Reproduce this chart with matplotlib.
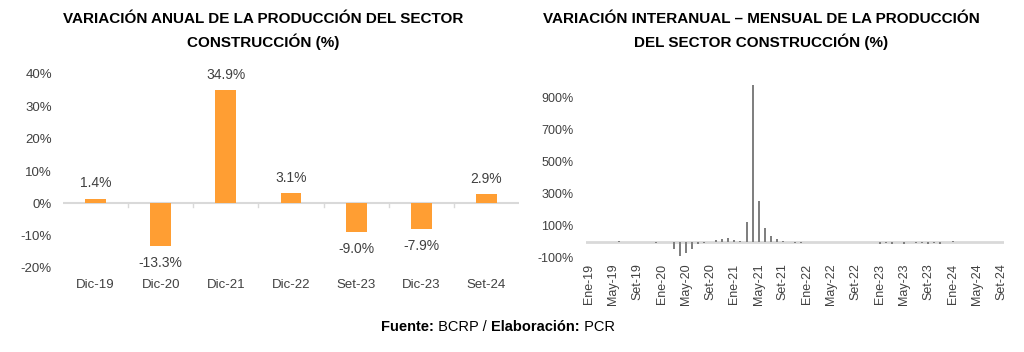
import matplotlib
matplotlib.use("Agg")
import matplotlib.pyplot as plt
from matplotlib.ticker import FuncFormatter, FixedLocator

plt.rcParams['font.family'] = ['Liberation Sans', 'DejaVu Sans']

# ---- Left chart data ----
annual_labels = ["Dic-19", "Dic-20", "Dic-21", "Dic-22", "Set-23", "Dic-23", "Set-24"]
annual_values = [1.4, -13.3, 34.9, 3.1, -9.0, -7.9, 2.9]

# ---- Right chart data ----
month_abbr = ["Ene", "Feb", "Mar", "Abr", "May", "Jun", "Jul", "Ago", "Set", "Oct", "Nov", "Dic"]
years = ["19", "20", "21", "22", "23", "24"]
monthly_labels = [f"{m}-{y}" for y in years for m in month_abbr][:69]
monthly_values = [
    1.0, 1.5, 0.5, -1.0, 1.5, 9.0, 1.0, 1.5, -0.5, 1.0, -1.0, -9.0,          # 2019
    -0.5, 1.0, -45.0, -88.0, -66.0, -45.0, -14.0, -6.0, 1.0, 10.0, 16.0, 25.0,  # 2020
    12.0, 6.0, 127.0, 980.0, 255.0, 88.0, 36.0, 19.0, 8.0, 1.0, -7.0, -7.0,  # 2021
    0.5, 1.0, 0.5, -0.5, 1.0, 1.0, 0.5, 1.5, 1.0, 0.5, -0.5, 1.0,           # 2022
    -11.0, -9.0, -10.0, -1.0, -10.0, -1.0, -9.0, -9.0, -10.0, -9.0, -10.0, -1.0,  # 2023
    9.0, 1.0, -1.0, 1.5, 0.5, 1.0, 0.5, 1.0, 1.5,                            # 2024
]

TXT = "#404040"
W, H = 1024, 352
fig = plt.figure(figsize=(W / 100, H / 100), dpi=100)

def frac(x0, y0, x1, y1):
    return [x0 / W, 1 - y1 / H, (x1 - x0) / W, (y1 - y0) / H]

# ---------------- Left chart ----------------
ax1 = fig.add_axes(frac(63, 74, 519, 268))
xs = list(range(len(annual_labels)))
ax1.bar(xs, annual_values, width=0.32, color="#FF9E33", zorder=2)
ax1.set_xlim(-0.5, len(annual_labels) - 0.5)
ax1.set_ylim(-20, 40)
ax1.yaxis.set_major_locator(FixedLocator([-20, -10, 0, 10, 20, 30, 40]))
ax1.yaxis.set_major_formatter(FuncFormatter(lambda v, p: f"{v:.0f}%"))
for s in ax1.spines.values():
    s.set_visible(False)
ax1.axhline(0, color="#d9d9d9", lw=1.5, zorder=1)
ax1.tick_params(axis="y", length=0, labelsize=9.5, labelcolor=TXT, pad=8)
ax1.set_xticks(xs)
ax1.set_xticklabels(annual_labels)
ax1.tick_params(axis="x", length=0, labelsize=9.5, labelcolor=TXT, pad=8)
# category boundary ticks on the zero line
for b in [i + 0.5 for i in range(len(annual_labels) - 1)]:
    ax1.plot([b, b], [0, -1.2], color="#d9d9d9", lw=1, zorder=1)
for x, v in zip(xs, annual_values):
    if v >= 0:
        ax1.annotate(f"{v:.1f}%", (x, v), xytext=(0, 6), textcoords="offset points",
                     ha="center", va="bottom", fontsize=10, color=TXT)
    else:
        ax1.annotate(f"{v:.1f}%", (x, v), xytext=(0, -7), textcoords="offset points",
                     ha="center", va="top", fontsize=10, color=TXT)

fig.text(263 / W, 1 - 19 / H, "VARIACIÓN ANUAL DE LA PRODUCCIÓN DEL SECTOR",
         ha="center", va="center", fontsize=11, fontweight="bold", color="black")
fig.text(263 / W, 1 - 42 / H, "CONSTRUCCIÓN (%)",
         ha="center", va="center", fontsize=11, fontweight="bold", color="black")

# ---------------- Right chart ----------------
ax2 = fig.add_axes(frac(586, 82, 1004, 258))
mx = list(range(len(monthly_values)))
ax2.bar(mx, monthly_values, width=0.33, color="#808080", zorder=2)
ax2.set_xlim(-0.5, len(monthly_values) - 0.5)
ax2.set_ylim(-100, 1000)
ax2.yaxis.set_major_locator(FixedLocator([-100, 100, 300, 500, 700, 900]))
ax2.yaxis.set_major_formatter(FuncFormatter(lambda v, p: f"{v:.0f}%"))
for s in ax2.spines.values():
    s.set_visible(False)
ax2.axhline(0, color="#d9d9d9", lw=2, zorder=1)
ax2.tick_params(axis="y", length=0, labelsize=9, labelcolor=TXT, pad=9)
tick_pos = mx[::4]
ax2.set_xticks(tick_pos)
ax2.set_xticklabels([monthly_labels[i] for i in tick_pos], rotation=90)
ax2.tick_params(axis="x", length=0, labelsize=9, labelcolor=TXT, pad=4)

fig.text(761 / W, 1 - 19 / H, "VARIACIÓN INTERANUAL – MENSUAL DE LA PRODUCCIÓN",
         ha="center", va="center", fontsize=11, fontweight="bold", color="black")
fig.text(761 / W, 1 - 42 / H, "DEL SECTOR CONSTRUCCIÓN (%)",
         ha="center", va="center", fontsize=11, fontweight="bold", color="black")

# ---------------- Footer ----------------
parts = [("Fuente:", "bold"), (" BCRP / ", "normal"), ("Elaboración:", "bold"), (" PCR", "normal")]
renderer = fig.canvas.get_renderer()
texts = []
total = 0
for s, w in parts:
    t = fig.text(0, 1 - 327 / H, s, fontsize=10.5, fontweight=w, color="black", va="center", ha="left")
    bb = t.get_window_extent(renderer=renderer)
    texts.append((t, bb.width))
    total += bb.width
x = 498 - total / 2
for t, wd in texts:
    t.set_x(x / W)
    x += wd

fig.savefig("out.png", dpi=100)
